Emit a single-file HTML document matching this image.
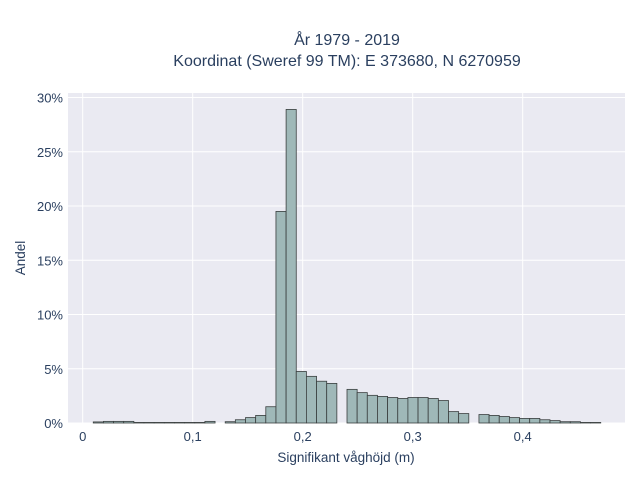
<!DOCTYPE html>
<html><head><meta charset="utf-8"><style>
body{margin:0;background:#fff;}
svg text{font-family:"Liberation Sans",sans-serif;fill:#2a3f5f;}
</style></head><body>
<svg width="640" height="480" xmlns="http://www.w3.org/2000/svg">
<rect x="68" y="93" width="557" height="330" fill="#eaeaf2"/>
<g id="grid"></g><g id="bars"></g><g id="axes"></g>
<text x="347" y="45" text-anchor="middle" font-size="16" fill="#222">År 1979 - 2019</text>
<text x="347" y="66" text-anchor="middle" font-size="16" fill="#222">Koordinat (Sweref 99 TM): E 373680, N 6270959</text>
<text x="346" y="462" text-anchor="middle" font-size="13.5" fill="#222">Signifikant våghöjd (m)</text>
<text x="25" y="258" text-anchor="middle" font-size="13.5" fill="#222" transform="rotate(-90 25 258)">Andel</text>
</svg>
<script>
const binStart = 0.0096;
const binWidth = 0.009227;
const shares = [0.1,0.15,0.15,0.15,0.05,0.05,0.05,0.05,0.05,0.05,0.05,0.15,0,0.12,0.3,0.5,0.7,1.5,19.5,28.9,4.75,4.3,3.85,3.65,0,3.1,2.8,2.55,2.45,2.35,2.26,2.35,2.35,2.26,2.07,1.05,0.87,0,0.78,0.7,0.6,0.5,0.42,0.42,0.3,0.22,0.12,0.12,0.05,0.05];
const xTicks = [0,0.1,0.2,0.3,0.4];
const xTickLabels = ["0","0,1","0,2","0,3","0,4"];
const yTicks = [0,5,10,15,20,25,30];
const yTickLabels = ["0%","5%","10%","15%","20%","25%","30%"];
const NS="http://www.w3.org/2000/svg";
const X = v => 82.7 + v*1100;
const Y = v => 423 - v*10.85;
const grid=document.getElementById('grid'), bars=document.getElementById('bars'), axes=document.getElementById('axes');
function mk(tag,attrs,parent){const e=document.createElementNS(NS,tag);for(const k in attrs)e.setAttribute(k,attrs[k]);parent.appendChild(e);return e;}
xTicks.forEach((t,i)=>{
  const l=mk('line',{x1:X(t),x2:X(t),y1:93,y2:423,stroke:'#fff','stroke-width':1},grid);
  
  
  const tx=mk('text',{x:X(t),y:441,'text-anchor':'middle','font-size':13,fill:'#222'},axes);
  tx.textContent=xTickLabels[i];
  
  
});
yTicks.forEach((t,i)=>{
  const l=mk('line',{x1:68,x2:625,y1:Y(t),y2:Y(t),stroke:'#fff','stroke-width':1},grid);
  
  
  const tx=mk('text',{x:63,y:Y(t)+5,'text-anchor':'end','font-size':13,fill:'#222'},axes);
  tx.textContent=yTickLabels[i];
  
  
});
shares.forEach((v,i)=>{
  if(v<=0)return;
  const x0=X(binStart+i*binWidth), x1=X(binStart+(i+1)*binWidth);
  const r=mk('rect',{x:x0,y:Y(v),width:x1-x0,height:423-Y(v),fill:'#9fb8b8',stroke:'#3a3f3f','stroke-width':0.8},bars);
  
  
});
</script>
</body></html>
